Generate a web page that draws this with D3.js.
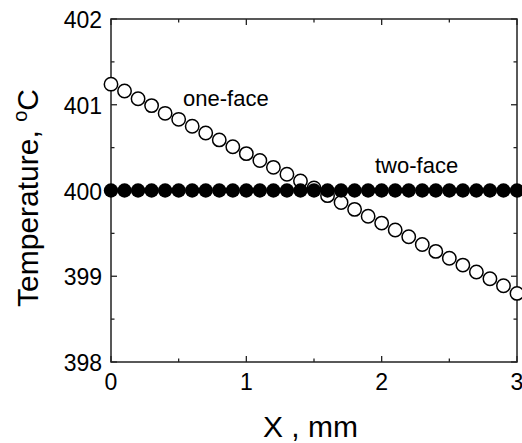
<!DOCTYPE html>
<html>
<head>
<meta charset="utf-8">
<script src="https://cdn.jsdelivr.net/npm/d3@7"></script>
<style>
  body { margin: 0; background: #fff; }
  svg text { font-family: "Liberation Sans", Arial, sans-serif; fill: #000; }
</style>
</head>
<body>
<div id="chart"></div>
<script>
// x positions, mm
const xPos = [0, 0.1, 0.2, 0.3, 0.4, 0.5, 0.6, 0.7, 0.8, 0.9, 1.0, 1.1, 1.2, 1.3, 1.4, 1.5,
  1.6, 1.7, 1.8, 1.9, 2.0, 2.1, 2.2, 2.3, 2.4, 2.5, 2.6, 2.7, 2.8, 2.9, 3.0];
// temperature, one-face heating (open circles)
const oneFace = [401.24, 401.16, 401.07, 400.99, 400.90, 400.83, 400.75, 400.67, 400.59, 400.51,
  400.43, 400.35, 400.27, 400.19, 400.11, 400.03, 399.94, 399.86, 399.78, 399.70, 399.62,
  399.54, 399.46, 399.37, 399.29, 399.21, 399.13, 399.05, 398.97, 398.89, 398.80];
// temperature, two-face heating (filled circles)
const twoFace = [400.0, 400.0, 400.0, 400.0, 400.0, 400.0, 400.0, 400.0, 400.0, 400.0,
  400.0, 400.0, 400.0, 400.0, 400.0, 400.0, 400.0, 400.0, 400.0, 400.0, 400.0,
  400.0, 400.0, 400.0, 400.0, 400.0, 400.0, 400.0, 400.0, 400.0, 400.0];
const xTicks = [0, 1, 2, 3];
const xMinor = [0.5, 1.5, 2.5];
const yTicks = [398, 399, 400, 401, 402];
const yMinor = [398.5, 399.5, 400.5, 401.5];

const W = 522, H = 443;
const margin = {top: 19, right: 5, bottom: 81, left: 111};
const width = W - margin.left - margin.right;
const height = H - margin.top - margin.bottom;

const svg = d3.select('#chart').append('svg')
  .attr('width', W)
  .attr('height', H);
const g = svg.append('g')
  .attr('transform', `translate(${margin.left},${margin.top})`);

const x = d3.scaleLinear().domain([0, 3]).range([0, width]);
const y = d3.scaleLinear().domain([398, 402]).range([height, 0]);

const axisColor = '#222';

// inward ticks on all four sides
function ticks(sel, vals, len, side) {
  sel.selectAll(null).data(vals).join('line')
    .attr('stroke', axisColor)
    .attr('stroke-width', 1.3)
    .each(function(d) {
      const l = d3.select(this);
      if (side === 'bottom') l.attr('x1', x(d)).attr('x2', x(d)).attr('y1', height).attr('y2', height - len);
      if (side === 'top') l.attr('x1', x(d)).attr('x2', x(d)).attr('y1', 0).attr('y2', len);
      if (side === 'left') l.attr('y1', y(d)).attr('y2', y(d)).attr('x1', 0).attr('x2', len);
      if (side === 'right') l.attr('y1', y(d)).attr('y2', y(d)).attr('x1', width).attr('x2', width - len);
    });
}
const tg = g.append('g');
['bottom', 'top'].forEach(s => { ticks(tg, xTicks, 6, s); ticks(tg, xMinor, 3.5, s); });
['left', 'right'].forEach(s => { ticks(tg, yTicks, 6, s); ticks(tg, yMinor, 3.5, s); });

g.append('rect')
  .attr('width', width).attr('height', height)
  .attr('fill', 'none')
  .attr('stroke', axisColor)
  .attr('stroke-width', 1.5);

// tick labels
g.append('g').selectAll('text').data(xTicks).join('text')
  .attr('x', d => x(d))
  .attr('y', height + 28)
  .attr('text-anchor', 'middle')
  .style('font-size', '23px')
  .text(d => d);

g.append('g').selectAll('text').data(yTicks).join('text')
  .attr('x', -9)
  .attr('y', d => y(d) + 9)
  .attr('text-anchor', 'end')
  .style('font-size', '23px')
  .text(d => d);

// markers
g.append('g').selectAll('circle').data(xPos).join('circle')
  .attr('cx', d => x(d))
  .attr('cy', (d, i) => y(oneFace[i]))
  .attr('r', 6.7)
  .attr('fill', '#fff')
  .attr('stroke', '#000')
  .attr('stroke-width', 1.5);

g.append('g').selectAll('circle').data(xPos).join('circle')
  .attr('cx', d => x(d))
  .attr('cy', (d, i) => y(twoFace[i]))
  .attr('r', 7.2)
  .attr('fill', '#000');

// annotations
g.append('text')
  .attr('x', 72).attr('y', 87)
  .style('font-size', '22px')
  .text('one-face');
g.append('text')
  .attr('x', 264).attr('y', 154)
  .style('font-size', '22px')
  .text('two-face');

// axis titles
svg.append('text')
  .attr('x', 263).attr('y', 437)
  .style('font-size', '30px')
  .text('X , mm');

const yl = svg.append('text')
  .attr('transform', 'translate(38,198) rotate(-90)')
  .attr('text-anchor', 'middle')
  .style('font-size', '30px');
yl.append('tspan').text('Temperature, ');
yl.append('tspan').attr('dy', -11).style('font-size', '20px').text('o');
yl.append('tspan').attr('dy', 11).text('C');
</script>
</body>
</html>
